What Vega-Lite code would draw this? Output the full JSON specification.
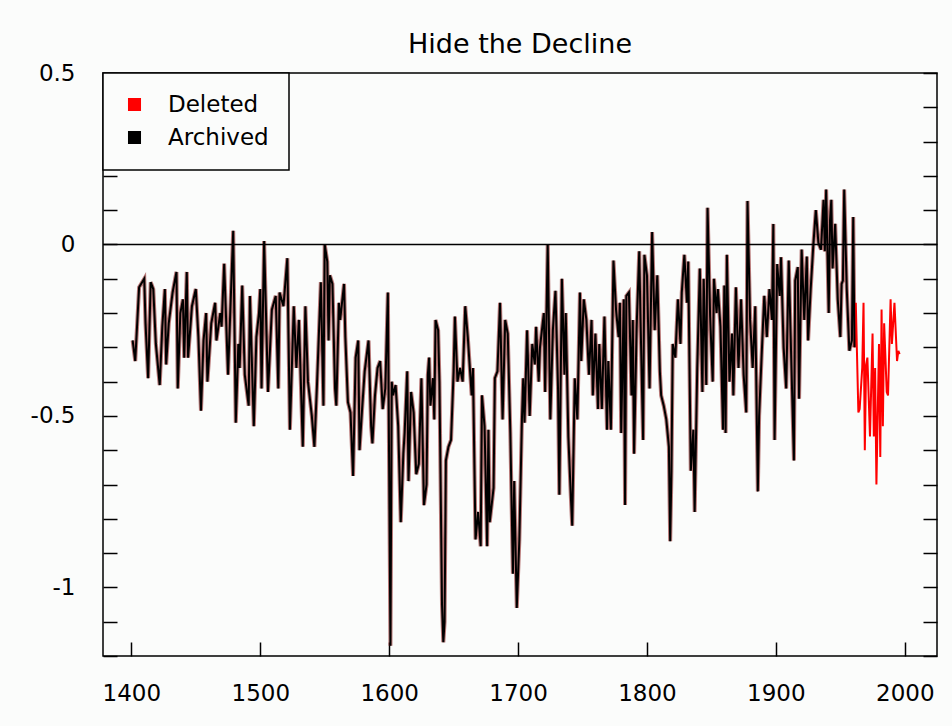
{
"$schema":"https://vega.github.io/schema/vega-lite/v6.json",
"width":834,"height":583,
"autosize":{"type":"none"},
"padding":{"left":103,"top":73,"right":15,"bottom":70},
"background":"#fbfcfb",
"title":{"text":"Hide the Decline","fontSize":27,"font":"DejaVu Sans","fontWeight":"normal","color":"black","offset":3,"anchor":"middle"},
"config":{"view":{"stroke":"black","strokeWidth":1.5},"font":"DejaVu Sans"},
"data":{"values":[
{"year":1401,"value":-0.28},{"year":1403,"value":-0.34},{"year":1406,"value":-0.125},{"year":1410,"value":-0.10},{"year":1411,"value":-0.23},{"year":1413,"value":-0.39},{"year":1415,"value":-0.11},{"year":1417,"value":-0.13},{"year":1419,"value":-0.29},{"year":1422,"value":-0.41},{"year":1424,"value":-0.24},{"year":1426,"value":-0.13},{"year":1427,"value":-0.35},{"year":1429,"value":-0.23},{"year":1432,"value":-0.14},{"year":1435,"value":-0.08},{"year":1436,"value":-0.42},{"year":1438,"value":-0.20},{"year":1440,"value":-0.16},{"year":1441,"value":-0.33},{"year":1443,"value":-0.08},{"year":1444,"value":-0.33},{"year":1447,"value":-0.18},{"year":1450,"value":-0.13},{"year":1452,"value":-0.27},{"year":1454,"value":-0.485},{"year":1456,"value":-0.28},{"year":1458,"value":-0.20},{"year":1459,"value":-0.40},{"year":1462,"value":-0.23},{"year":1465,"value":-0.17},{"year":1466,"value":-0.28},{"year":1469,"value":-0.20},{"year":1470,"value":-0.24},{"year":1472,"value":-0.056},{"year":1475,"value":-0.38},{"year":1479,"value":0.04},{"year":1481,"value":-0.52},{"year":1483,"value":-0.29},{"year":1484,"value":-0.36},{"year":1486,"value":-0.12},{"year":1488,"value":-0.38},{"year":1491,"value":-0.47},{"year":1492,"value":-0.15},{"year":1495,"value":-0.53},{"year":1497,"value":-0.27},{"year":1499,"value":-0.20},{"year":1500,"value":-0.13},{"year":1501,"value":-0.42},{"year":1503,"value":0.01},{"year":1506,"value":-0.43},{"year":1509,"value":-0.19},{"year":1512,"value":-0.15},{"year":1514,"value":-0.42},{"year":1515,"value":-0.14},{"year":1518,"value":-0.18},{"year":1521,"value":-0.04},{"year":1523,"value":-0.54},{"year":1526,"value":-0.18},{"year":1528,"value":-0.36},{"year":1530,"value":-0.22},{"year":1533,"value":-0.59},{"year":1535,"value":-0.18},{"year":1537,"value":-0.40},{"year":1540,"value":-0.50},{"year":1542,"value":-0.59},{"year":1544,"value":-0.41},{"year":1547,"value":-0.11},{"year":1549,"value":-0.47},{"year":1550,"value":0.0},{"year":1552,"value":-0.05},{"year":1553,"value":-0.28},{"year":1554,"value":-0.09},{"year":1556,"value":-0.115},{"year":1558,"value":-0.42},{"year":1559,"value":-0.47},{"year":1561,"value":-0.17},{"year":1562,"value":-0.22},{"year":1565,"value":-0.115},{"year":1566,"value":-0.27},{"year":1568,"value":-0.46},{"year":1570,"value":-0.49},{"year":1572,"value":-0.675},{"year":1574,"value":-0.33},{"year":1576,"value":-0.28},{"year":1577,"value":-0.60},{"year":1579,"value":-0.48},{"year":1581,"value":-0.37},{"year":1584,"value":-0.28},{"year":1586,"value":-0.53},{"year":1587,"value":-0.58},{"year":1589,"value":-0.44},{"year":1591,"value":-0.36},{"year":1593,"value":-0.34},{"year":1595,"value":-0.48},{"year":1597,"value":-0.42},{"year":1599,"value":-0.14},{"year":1601,"value":-1.17},{"year":1602,"value":-0.40},{"year":1603,"value":-0.44},{"year":1605,"value":-0.41},{"year":1607,"value":-0.53},{"year":1609,"value":-0.81},{"year":1611,"value":-0.61},{"year":1612,"value":-0.55},{"year":1614,"value":-0.37},{"year":1615,"value":-0.69},{"year":1617,"value":-0.43},{"year":1619,"value":-0.49},{"year":1621,"value":-0.67},{"year":1623,"value":-0.64},{"year":1625,"value":-0.39},{"year":1627,"value":-0.76},{"year":1629,"value":-0.70},{"year":1630,"value":-0.38},{"year":1631,"value":-0.33},{"year":1632,"value":-0.47},{"year":1634,"value":-0.39},{"year":1635,"value":-0.51},{"year":1636,"value":-0.22},{"year":1638,"value":-0.25},{"year":1639,"value":-0.40},{"year":1641,"value":-1.05},{"year":1642,"value":-1.16},{"year":1643,"value":-1.10},{"year":1644,"value":-0.63},{"year":1646,"value":-0.59},{"year":1648,"value":-0.57},{"year":1650,"value":-0.37},{"year":1651,"value":-0.21},{"year":1653,"value":-0.40},{"year":1655,"value":-0.36},{"year":1657,"value":-0.40},{"year":1659,"value":-0.18},{"year":1661,"value":-0.27},{"year":1664,"value":-0.44},{"year":1665,"value":-0.36},{"year":1667,"value":-0.86},{"year":1669,"value":-0.78},{"year":1671,"value":-0.88},{"year":1672,"value":-0.44},{"year":1674,"value":-0.53},{"year":1676,"value":-0.88},{"year":1677,"value":-0.54},{"year":1678,"value":-0.81},{"year":1681,"value":-0.71},{"year":1682,"value":-0.39},{"year":1684,"value":-0.37},{"year":1686,"value":-0.17},{"year":1688,"value":-0.51},{"year":1690,"value":-0.22},{"year":1692,"value":-0.26},{"year":1694,"value":-0.55},{"year":1696,"value":-0.96},{"year":1697,"value":-0.69},{"year":1699,"value":-1.06},{"year":1701,"value":-0.86},{"year":1703,"value":-0.51},{"year":1704,"value":-0.39},{"year":1705,"value":-0.52},{"year":1707,"value":-0.25},{"year":1709,"value":-0.50},{"year":1711,"value":-0.29},{"year":1713,"value":-0.35},{"year":1714,"value":-0.24},{"year":1716,"value":-0.40},{"year":1717,"value":-0.30},{"year":1720,"value":-0.20},{"year":1721,"value":-0.43},{"year":1723,"value":0.0},{"year":1725,"value":-0.51},{"year":1727,"value":-0.25},{"year":1729,"value":-0.135},{"year":1731,"value":-0.42},{"year":1732,"value":-0.73},{"year":1734,"value":-0.10},{"year":1736,"value":-0.38},{"year":1737,"value":-0.20},{"year":1739,"value":-0.56},{"year":1741,"value":-0.74},{"year":1742,"value":-0.82},{"year":1744,"value":-0.39},{"year":1746,"value":-0.51},{"year":1748,"value":-0.14},{"year":1749,"value":-0.34},{"year":1751,"value":-0.16},{"year":1753,"value":-0.22},{"year":1755,"value":-0.38},{"year":1757,"value":-0.22},{"year":1758,"value":-0.44},{"year":1760,"value":-0.26},{"year":1762,"value":-0.48},{"year":1763,"value":-0.29},{"year":1765,"value":-0.48},{"year":1767,"value":-0.21},{"year":1769,"value":-0.54},{"year":1770,"value":-0.34},{"year":1772,"value":-0.54},{"year":1774,"value":-0.047},{"year":1776,"value":-0.19},{"year":1778,"value":-0.27},{"year":1779,"value":-0.17},{"year":1780,"value":-0.55},{"year":1782,"value":-0.16},{"year":1783,"value":-0.76},{"year":1784,"value":-0.15},{"year":1786,"value":-0.14},{"year":1788,"value":-0.44},{"year":1789,"value":-0.22},{"year":1790,"value":-0.61},{"year":1792,"value":-0.24},{"year":1794,"value":-0.02},{"year":1795,"value":-0.22},{"year":1797,"value":-0.57},{"year":1798,"value":-0.03},{"year":1800,"value":-0.09},{"year":1802,"value":-0.42},{"year":1804,"value":0.036},{"year":1806,"value":-0.25},{"year":1808,"value":-0.09},{"year":1810,"value":-0.37},{"year":1811,"value":-0.44},{"year":1813,"value":-0.47},{"year":1815,"value":-0.51},{"year":1817,"value":-0.59},{"year":1818,"value":-0.865},{"year":1819,"value":-0.66},{"year":1820,"value":-0.29},{"year":1822,"value":-0.33},{"year":1824,"value":-0.16},{"year":1826,"value":-0.29},{"year":1827,"value":-0.14},{"year":1829,"value":-0.03},{"year":1831,"value":-0.17},{"year":1832,"value":-0.05},{"year":1834,"value":-0.66},{"year":1836,"value":-0.54},{"year":1837,"value":-0.78},{"year":1839,"value":-0.36},{"year":1841,"value":-0.07},{"year":1843,"value":-0.43},{"year":1844,"value":-0.10},{"year":1846,"value":-0.41},{"year":1847,"value":0.107},{"year":1849,"value":-0.21},{"year":1851,"value":-0.40},{"year":1852,"value":-0.10},{"year":1854,"value":-0.20},{"year":1855,"value":-0.13},{"year":1857,"value":-0.24},{"year":1859,"value":-0.54},{"year":1860,"value":-0.12},{"year":1861,"value":-0.55},{"year":1862,"value":-0.03},{"year":1864,"value":-0.40},{"year":1866,"value":-0.26},{"year":1867,"value":-0.44},{"year":1869,"value":-0.125},{"year":1871,"value":-0.36},{"year":1873,"value":-0.16},{"year":1875,"value":-0.38},{"year":1877,"value":-0.49},{"year":1878,"value":0.127},{"year":1880,"value":-0.22},{"year":1882,"value":-0.36},{"year":1884,"value":-0.18},{"year":1886,"value":-0.72},{"year":1887,"value":-0.50},{"year":1889,"value":-0.32},{"year":1891,"value":-0.15},{"year":1893,"value":-0.27},{"year":1895,"value":-0.13},{"year":1897,"value":-0.22},{"year":1898,"value":0.06},{"year":1899,"value":-0.57},{"year":1901,"value":-0.057},{"year":1903,"value":-0.15},{"year":1904,"value":-0.037},{"year":1906,"value":-0.30},{"year":1908,"value":-0.42},{"year":1910,"value":-0.047},{"year":1911,"value":-0.20},{"year":1914,"value":-0.63},{"year":1915,"value":-0.105},{"year":1917,"value":-0.066},{"year":1918,"value":-0.45},{"year":1920,"value":-0.015},{"year":1922,"value":-0.22},{"year":1924,"value":-0.035},{"year":1925,"value":-0.28},{"year":1927,"value":-0.13},{"year":1929,"value":-0.005},{"year":1931,"value":0.10},{"year":1933,"value":0.005},{"year":1935,"value":-0.015},{"year":1937,"value":0.13},{"year":1938,"value":-0.02},{"year":1939,"value":0.16},{"year":1941,"value":-0.20},{"year":1942,"value":0.07},{"year":1943,"value":0.13},{"year":1944,"value":-0.07},{"year":1946,"value":0.06},{"year":1948,"value":-0.16},{"year":1950,"value":-0.27},{"year":1951,"value":-0.115},{"year":1952,"value":-0.105},{"year":1953,"value":0.16},{"year":1955,"value":-0.13},{"year":1956,"value":-0.22},{"year":1957,"value":-0.31},{"year":1959,"value":-0.28},{"year":1960,"value":0.08},{"year":1961,"value":-0.30},{"year":1962,"value":-0.17},{"year":1964,"value":-0.49},{"year":1965,"value":-0.48},{"year":1967,"value":-0.36},{"year":1968,"value":-0.17},{"year":1969,"value":-0.60},{"year":1970,"value":-0.35},{"year":1971,"value":-0.33},{"year":1973,"value":-0.56},{"year":1975,"value":-0.26},{"year":1976,"value":-0.56},{"year":1977,"value":-0.36},{"year":1978,"value":-0.70},{"year":1980,"value":-0.29},{"year":1981,"value":-0.62},{"year":1982,"value":-0.19},{"year":1983,"value":-0.53},{"year":1984,"value":-0.23},{"year":1986,"value":-0.43},{"year":1987,"value":-0.44},{"year":1989,"value":-0.16},{"year":1990,"value":-0.29},{"year":1992,"value":-0.17},{"year":1994,"value":-0.34},{"year":1995,"value":-0.31},{"year":1996,"value":-0.32}
]},
"resolve":{"axis":{"x":"independent","y":"independent"}},
"layer":[
{"transform":[{"filter":"datum.year <= 1961"}],
 "mark":{"type":"line","color":"#8a2020","strokeWidth":4,"opacity":0.6},
 "encoding":{
  "x":{"field":"year","type":"quantitative","scale":{"domain":[1378,2025],"nice":false,"zero":false},
   "axis":{"orient":"bottom","values":[1400,1500,1600,1700,1800,1900,2000],"format":"d","title":null,"grid":false,"domain":false,"tickSize":-14,"tickWidth":1.5,"tickColor":"black","labelPadding":40,"labelFontSize":23,"labelColor":"black","labelFont":"DejaVu Sans","labelFlush":false}},
  "y":{"field":"value","type":"quantitative","scale":{"domain":[-1.2,0.5],"nice":false,"zero":false},
   "axis":{"orient":"left","values":[-1.2,-1.1,-1,-0.9,-0.8,-0.7,-0.6,-0.5,-0.4,-0.3,-0.2,-0.1,0,0.1,0.2,0.3,0.4,0.5],"labelExpr":"indexof(['0.5','0','-0.5','-1'], '' + datum.value) >= 0 ? '' + datum.value : ''","title":null,"grid":false,"domain":false,"tickSize":-14,"tickWidth":1.5,"tickColor":"black","labelPadding":42,"labelFontSize":23,"labelColor":"black","labelFont":"DejaVu Sans","labelFlush":false}}
 }},
{"transform":[{"filter":"datum.year >= 1961"}],
 "mark":{"type":"line","strokeWidth":2},
 "encoding":{
  "x":{"field":"year","type":"quantitative","axis":null},
  "y":{"field":"value","type":"quantitative",
   "axis":{"orient":"right","values":[-1.2,-1.1,-1,-0.9,-0.8,-0.7,-0.6,-0.5,-0.4,-0.3,-0.2,-0.1,0,0.1,0.2,0.3,0.4,0.5],"labels":false,"title":null,"grid":false,"domain":false,"tickSize":-14,"tickWidth":1.5,"tickColor":"black"}},
  "color":{"datum":"Deleted","type":"nominal","scale":{"domain":["Deleted","Archived"],"range":["#ff0000","#000000"]},
   "legend":{"title":null,"orient":"top-left","offset":0,"padding":20,"strokeColor":"black","fillColor":"#fbfcfb","symbolType":"square","symbolSize":140,"symbolStrokeColor":"black","symbolStrokeWidth":1,"labelFontSize":23,"labelFont":"DejaVu Sans","labelColor":"black","labelOffset":22,"rowPadding":9,
    "encode":{"symbols":{"update":{"fill":{"scale":"color","field":"value"},"stroke":{"value":"black"},"strokeWidth":{"value":1.2},"opacity":{"value":1}}},"legend":{"update":{"strokeWidth":{"value":1.5}}}}}}
 }},
{"transform":[{"filter":"datum.year <= 1961"}],
 "mark":{"type":"line","strokeWidth":2},
 "encoding":{
  "x":{"field":"year","type":"quantitative","axis":null},
  "y":{"field":"value","type":"quantitative","axis":null},
  "color":{"datum":"Archived","type":"nominal"}
 }},
{"data":{"values":[{"ref":0}]},
 "mark":{"type":"rule","color":"black","strokeWidth":1.5},
 "encoding":{"y":{"field":"ref","type":"quantitative","axis":null}}}
]
}
